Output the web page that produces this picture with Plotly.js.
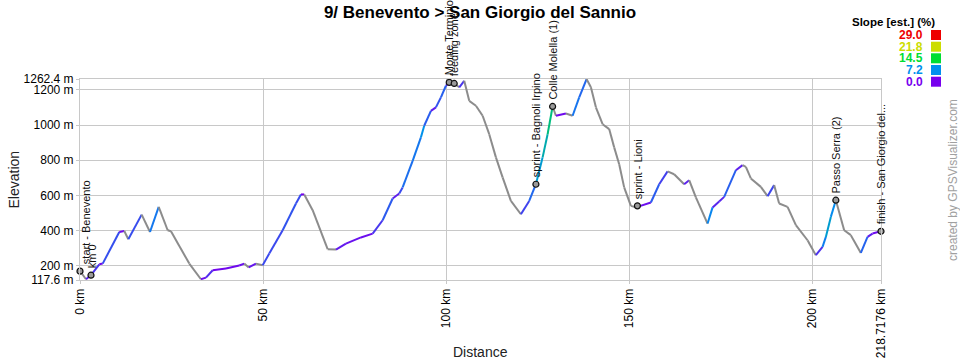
<!DOCTYPE html>
<html>
<head>
<meta charset="utf-8">
<script src="https://cdn.plot.ly/plotly-3.0.1.min.js"></script>
<style>html,body{margin:0;padding:0;background:#fff;}#chart{width:960px;height:360px;}</style>
</head>
<body>
<div id="chart"></div>
<script>
// ---- data ----
const distKm = [0,1.64,3.00,5.27,6.20,10.73,12.09,13.19,16.84,19.11,21.49,23.94,24.84,29.84,33.03,34.40,36.23,39.86,43.49,
  44.85,46.06,48.05,49.88,51.68,55.34,58.97,60.33,61.23,63.53,67.62,69.89,72.62,76.71,79.91,82.64,85.37,87.17,
  88.10,90.83,93.09,93.99,95.82,97.19,98.55,99.92,100.82,102.18,103.55,104.91,106.28,108.11,109.94,111.74,113.57,115.40,
  117.66,120.39,122.66,124.49,126.32,127.68,129.05,129.95,132.68,134.51,136.31,138.33,139.50,140.87,142.70,144.50,
  145.86,147.23,148.59,150.42,151.79,155.88,158.15,160.44,162.24,164.97,166.34,168.17,171.36,172.73,174.53,175.90,
  179.09,180.92,181.82,183.18,185.91,187.74,189.54,190.91,193.20,195.47,198.66,200.93,202.76,203.66,205.02,206.39,
  208.66,210.48,213.21,215.04,216.40,218.7176];
const elevM = [168,122,145,207,211,391,397,350,490,391,534,401,395,211,122,131,173,183,200,
  211,189,211,202,268,401,553,605,605,515,293,291,325,360,382,458,582,610,
  645,796,930,996,1081,1101,1158,1224,1243,1237,1215,1252,1138,1110,1053,948,816,702,
  568,492,568,663,816,948,1106,1053,1066,1053,1158,1262,1215,1101,1005,977,
  873,777,645,540,531,559,663,736,720,663,686,588,439,531,565,591,
  743,772,762,696,648,595,658,553,534,430,344,259,306,363,477,572,
  401,373,272,363,382,395];

const wpNames = ["start - Benevento","km 0","Monte Terminio","feeding zone","sprint - Bagnoli Irpino",
  "Colle Molella (1)","sprint - Lioni","Passo Serra (2)","finish - San Giorgio del..."];
const wpKm = [0,3.0,100.82,102.18,124.49,129.05,152.2,206.39,218.7176];
const wpElev = [168,145,1243,1237,663,1106,540,572,395];

const yTickVals = [117.6,200,400,600,800,1000,1200,1262.4];
const yTickText = ["117.6 m","200 m","400 m","600 m","800 m","1000 m","1200 m","1262.4 m"];
const xTickVals = [0,50,100,150,200,218.7176];
const xTickText = ["0 km","50 km","100 km","150 km","200 km","218.7176 km"];

const slopeStops = [0.0,7.2,14.5,21.8,29.0];
const slopeColors = ["#7700ee","#0090ee","#00dd33","#ccdd00","#ee0000"];

// ---- helpers ----
function hexToRgb(h){return [parseInt(h.slice(1,3),16),parseInt(h.slice(3,5),16),parseInt(h.slice(5,7),16)];}
function slopeColor(s){
  if (s < 0) return "#8c8c8c";
  if (s >= slopeStops[slopeStops.length-1]) return slopeColors[slopeColors.length-1];
  for (let i=0;i<slopeStops.length-1;i++){
    if (s>=slopeStops[i] && s<=slopeStops[i+1]){
      const t=(s-slopeStops[i])/(slopeStops[i+1]-slopeStops[i]);
      const a=hexToRgb(slopeColors[i]), b=hexToRgb(slopeColors[i+1]);
      return "rgb("+a.map((v,k)=>Math.round(v+(b[k]-v)*t)).join(",")+")";
    }
  }
  return slopeColors[0];
}

const FONT = "Liberation Sans, Arial, Helvetica, sans-serif";
const traces = [];
for (let i=0;i<distKm.length-1;i++){
  const s = (elevM[i+1]-elevM[i])/((distKm[i+1]-distKm[i])*1000)*100;
  traces.push({
    type:"scatter", mode:"lines",
    x:[distKm[i],distKm[i+1]], y:[elevM[i],elevM[i+1]],
    line:{color:slopeColor(s), width:2},
    hoverinfo:"skip", showlegend:false
  });
}
traces.push({
  type:"scatter", mode:"markers", x:wpKm, y:wpElev, text:wpNames,
  marker:{symbol:"circle", size:6, color:"#9a9a9a", line:{color:"#111", width:1.2}},
  hoverinfo:"text", showlegend:false, cliponaxis:false
});

const annotations = [];
const labelShift = [6,1,0,0,0,0,0,0,0];
wpNames.forEach((n,i)=>{
  annotations.push({
    x:wpKm[i], y:wpElev[i], xref:"x", yref:"y", text:n, showarrow:false,
    textangle:-90, xanchor:"center", yanchor:"bottom", yshift:5, xshift:labelShift[i],
    font:{family:FONT, size:11, color:"#111"}
  });
});

// pixel -> paper helpers (plot area: x 80..881, y 79..280)
const PL=80, PW=801, PB=280, PH=201;
const px = v => (v-PL)/PW;
const py = v => (PB-v)/PH;

annotations.push({xref:"paper",yref:"paper",x:px(13),y:0.5,text:"Elevation",textangle:-90,showarrow:false,
  xanchor:"center",yanchor:"middle",font:{family:FONT,size:14,color:"#222"}});
annotations.push({xref:"paper",yref:"paper",x:0.5,y:py(352),text:"Distance",showarrow:false,
  xanchor:"center",yanchor:"middle",font:{family:FONT,size:14,color:"#222"}});
annotations.push({xref:"paper",yref:"paper",x:px(953),y:py(180),text:"created by GPSVisualizer.com",textangle:-90,
  showarrow:false,xanchor:"center",yanchor:"middle",font:{family:FONT,size:12,color:"#a0a0a0"}});
annotations.push({xref:"paper",yref:"paper",x:px(937),y:py(21.5),text:"<b>Slope [est.] (%)</b>",showarrow:false,
  xanchor:"right",yanchor:"middle",font:{family:FONT,size:11.5,color:"#000"}});

const shapes = [];
const legendY = [81.7,70,58.3,46.7,35];
slopeStops.forEach((v,i)=>{
  annotations.push({xref:"paper",yref:"paper",x:px(925),y:py(legendY[i]),text:"<b>"+v.toFixed(1)+"</b>",
    showarrow:false,xanchor:"right",yanchor:"middle",font:{family:FONT,size:12,color:slopeColors[i]}});
  shapes.push({type:"rect",xref:"paper",yref:"paper",x0:px(931),x1:px(941),y0:py(legendY[i]+5),y1:py(legendY[i]-5),
    fillcolor:slopeColors[i],line:{width:0}});
});

const layout = {
  width:960, height:360,
  margin:{l:80, r:79, t:79, b:80},
  paper_bgcolor:"#fff", plot_bgcolor:"#fff",
  title:{text:"<b>9/ Benevento > San Giorgio del Sannio</b>", x:0.5, xref:"container", y:1-12/360, yref:"container",
    yanchor:"middle", font:{family:FONT, size:17, color:"#000"}},
  xaxis:{range:[0,218.7176], tickvals:xTickVals, ticktext:xTickText, tickangle:-90,
    showgrid:true, gridcolor:"#c8c8c8", gridwidth:1, zeroline:false,
    showline:true, mirror:true, linecolor:"#c8c8c8", linewidth:1,
    ticks:"outside", ticklen:3, tickcolor:"#c8c8c8",
    tickfont:{family:FONT, size:12, color:"#000"}, fixedrange:true},
  yaxis:{range:[117.6,1262.4], tickvals:yTickVals, ticktext:yTickText,
    showgrid:true, gridcolor:"#c8c8c8", gridwidth:1, zeroline:false,
    showline:true, mirror:true, linecolor:"#c8c8c8", linewidth:1,
    ticks:"outside", ticklen:3, tickcolor:"#c8c8c8",
    tickfont:{family:FONT, size:12, color:"#000"}, fixedrange:true},
  annotations:annotations, shapes:shapes, showlegend:false, hovermode:"closest"
};

Plotly.newPlot("chart", traces, layout, {displayModeBar:false, staticPlot:true});
</script>
</body>
</html>
